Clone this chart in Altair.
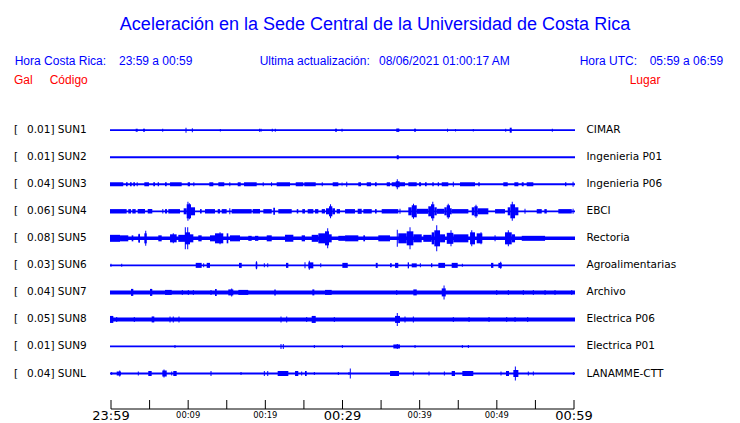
import altair as alt
import pandas as pd

# ---------------- texts ----------------
title_text = "Aceleración en la Sede Central de la Universidad de Costa Rica"
cr_label, cr_range = "Hora Costa Rica:", "23:59 a 00:59"
upd_label, upd_value = "Ultima actualización:", "08/06/2021 01:00:17 AM"
utc_label, utc_range = "Hora UTC:", "05:59 a 06:59"
col_gal, col_code, col_place = "Gal", "Código", "Lugar"

codes = ["SUN1", "SUN2", "SUN3", "SUN4", "SUN5", "SUN6", "SUN7", "SUN8", "SUN9", "SUNL"]
gals = ["0.01", "0.01", "0.04", "0.06", "0.08", "0.03", "0.04", "0.05", "0.01", "0.04"]
places = ["CIMAR", "Ingenieria P01", "Ingenieria P06", "EBCI", "Rectoria",
          "Agroalimentarias", "Archivo", "Electrica P06", "Electrica P01", "LANAMME-CTT"]

# background noise half-amplitude of each trace (relative units)
base_amp = [0.9, 0.9, 0.9, 0.9, 1.75, 0.9, 2, 2, 0.9, 0.9]
t_first, t_last = -0.13, 60.13          # minutes after 23:59

tick_minutes = list(range(0, 61, 5))
major_minutes = [0, 30, 60]
major_texts = ["23:59", "00:29", "00:59"]
minor_minutes = [10, 20, 40, 50]
minor_texts = ["00:09", "00:19", "00:39", "00:49"]

# ---------------- trace activity: (start min, end min, half amplitude) ----------------
blocks_SUN1 = [(3.20, 3.46, 1.5), (4.15, 4.41, 1.5), (29.03, 29.29, 1.5), (36.97, 37.36, 1.7),
               (39.27, 39.53, 1.5), (51.67, 51.93, 2.5)]
spikes_SUN1 = [(6.70, 1.5), (9.72, 2.5), (10.54, 2), (14.17, 1.2), (19.25, 1.5), (19.44, 1.5),
               (20.90, 1.5), (21.29, 1.5), (29.94, 1.5), (43.61, 1.5), (44.65, 1.2), (46.95, 1.2),
               (51.15, 1.5), (57.19, 1.5)]

blocks_SUN2 = [(37.03, 37.29, 2)]
spikes_SUN2 = []

blocks_SUN3 = [(-0.13, 1.59, 2), (1.94, 2.16, 2), (2.46, 2.68, 2), (2.89, 3.11, 2), (3.33, 3.46, 2),
               (4.32, 4.92, 2), (5.48, 5.70, 2), (6.05, 6.22, 2), (7.00, 7.22, 2), (7.65, 9.16, 2),
               (9.94, 10.24, 2), (10.67, 10.80, 2), (12.74, 13.26, 2), (13.91, 14.68, 2),
               (15.33, 15.46, 2), (16.42, 16.81, 2), (17.24, 18.88, 2), (19.66, 19.79, 2),
               (20.74, 20.87, 2), (21.47, 23.20, 2), (23.94, 24.92, 2), (25.05, 26.53, 2),
               (27.31, 27.44, 2), (28.73, 29.46, 2), (29.90, 29.98, 2), (32.05, 32.40, 2),
               (33.14, 33.70, 2), (34.21, 34.43, 2), (35.73, 36.16, 2), (36.38, 38.10, 2),
               (36.90, 37.40, 3), (38.53, 39.62, 2), (39.92, 40.18, 2), (40.69, 40.91, 2),
               (41.64, 41.82, 2), (42.34, 42.51, 2), (42.86, 43.71, 2), (45.23, 47.17, 2),
               (47.60, 47.78, 2), (50.84, 51.41, 2), (52.27, 52.79, 2), (53.23, 53.48, 2),
               (53.87, 54.73, 2), (58.84, 59.01, 2)]
spikes_SUN3 = [(30.55, 2.5), (37.10, 5), (44.36, 2.5), (59.88, 2.5)]

blocks_SUN4 = [(-0.13, 2.03, 2.2), (2.24, 2.59, 2.2), (2.76, 3.20, 2.2), (3.46, 4.41, 2.2),
               (4.76, 5.35, 2.2), (6.65, 6.78, 2.2), (7.00, 7.26, 2.2), (7.43, 8.94, 2.2),
               (9.42, 9.81, 3), (9.81, 10.37, 7), (10.37, 10.89, 4), (11.53, 11.75, 2.2),
               (12.18, 13.48, 2.2), (13.83, 14.13, 2.2), (14.35, 14.99, 2.2), (15.33, 15.46, 3),
               (15.64, 18.23, 2.2), (18.36, 19.31, 2.2), (19.74, 20.83, 2.2), (21.03, 21.25, 3.5),
               (21.68, 23.42, 2.2), (24.07, 24.27, 2.2), (24.79, 25.14, 2.2), (25.49, 26.22, 2.2),
               (26.44, 26.87, 2.2), (27.31, 27.73, 2.2), (27.86, 28.25, 3), (28.25, 28.68, 5),
               (28.68, 29.03, 3), (29.25, 29.68, 2.2), (30.33, 31.62, 2.2), (31.97, 32.49, 2.5),
               (32.70, 33.79, 2.2), (34.21, 34.43, 2.2), (35.08, 37.23, 2.2), (38.53, 38.97, 4),
               (38.97, 39.62, 6), (39.62, 41.12, 2.5), (41.12, 41.47, 5), (41.47, 41.90, 7),
               (41.90, 42.21, 4), (42.21, 43.20, 2.5), (43.20, 43.51, 4), (43.51, 43.93, 6),
               (43.93, 44.15, 3), (44.15, 46.31, 2.2), (46.75, 47.08, 4), (47.08, 47.52, 5),
               (47.52, 48.90, 3), (49.77, 51.06, 2.2), (51.41, 51.75, 4), (51.75, 52.36, 7),
               (52.36, 52.79, 4), (55.17, 55.82, 2.2), (56.16, 56.47, 2.2), (57.97, 59.71, 2.2)]
spikes_SUN4 = [(9.97, 9.5), (10.15, 8), (28.45, 7), (39.20, 7.5), (41.70, 9.5), (43.70, 7.5),
               (47.30, 6.5), (52.00, 9.5), (37.45, 2.5), (53.65, 2.5), (59.88, 2.5)]

blocks_SUN5 = [(-0.13, 1.17, 3.5), (1.17, 2.24, 3), (2.68, 2.89, 3), (3.54, 3.76, 4), (4.32, 4.63, 5),
               (6.13, 6.57, 3), (7.65, 8.51, 4), (8.72, 9.59, 3.5), (9.59, 10.24, 6), (10.02, 10.67, 4),
               (11.31, 11.75, 3), (12.83, 13.48, 3), (13.48, 14.55, 5), (14.99, 15.20, 5),
               (15.42, 16.72, 3), (17.79, 18.23, 2.5), (18.66, 19.09, 2.5), (20.18, 20.83, 3),
               (22.55, 23.63, 3.5), (24.71, 25.14, 3), (26.01, 26.87, 3.5), (26.87, 27.73, 5),
               (27.73, 28.25, 7), (28.25, 28.60, 4), (29.46, 30.33, 2.5), (30.33, 32.05, 3),
               (32.70, 32.92, 3), (34.64, 36.16, 3), (37.23, 38.32, 5), (38.32, 39.18, 7),
               (39.18, 40.27, 4), (40.47, 41.56, 3.5), (41.56, 41.90, 6), (41.90, 42.64, 8),
               (42.64, 43.29, 4), (43.51, 44.36, 5.5), (44.36, 46.31, 4), (46.53, 47.17, 6),
               (47.39, 48.12, 5), (51.06, 51.93, 6), (51.93, 52.36, 4), (53.23, 56.25, 2.5)]
spikes_SUN5 = [(3.65, 4.5), (4.50, 7.5), (8.07, 5), (9.63, 11), (9.94, 11), (14.13, 6), (28.08, 10),
               (37.10, 8.5), (38.75, 11), (42.21, 13), (44.06, 8), (46.75, 8), (47.95, 6),
               (49.77, 3), (51.49, 8)]

blocks_SUN6 = [(10.98, 11.75, 2.5), (12.40, 12.83, 2.5), (16.59, 16.94, 2.5), (18.75, 18.96, 3),
               (22.68, 22.98, 2.5), (25.57, 26.22, 3), (29.98, 30.68, 2.5), (34.31, 34.56, 2.5),
               (36.16, 36.38, 2), (36.81, 37.23, 2.5), (38.45, 38.62, 3), (38.97, 39.62, 2),
               (41.47, 41.64, 2), (42.42, 43.29, 2.5), (44.15, 44.93, 2.5), (49.25, 49.55, 2.5),
               (50.20, 50.63, 2.5)]
spikes_SUN6 = [(0.0, 1.5), (1.39, 1.5), (12.01, 2), (18.85, 4), (19.87, 2), (20.31, 2), (25.14, 3),
               (25.70, 4.5), (27.18, 2), (40.09, 2), (45.53, 1.5), (50.50, 3.5)]

blocks_SUN7 = [(2.59, 2.89, 3.5), (5.05, 5.35, 3.5), (7.00, 7.87, 2.5), (13.48, 13.70, 3.5),
               (15.20, 15.85, 3), (16.50, 17.79, 2.5), (21.16, 21.35, 3), (26.09, 26.35, 3),
               (27.73, 28.60, 2.5), (39.18, 39.62, 3), (42.86, 43.38, 4)]
spikes_SUN7 = [(9.24, 2.5), (10.02, 2.5), (10.67, 2.5), (12.96, 2.5), (15.64, 4), (37.03, 2.5),
               (43.16, 7), (49.99, 2.5), (51.49, 2.5), (53.43, 2.5), (54.73, 2.5), (56.25, 2.5),
               (57.54, 2.5), (59.71, 2.5)]

blocks_SUN8 = [(-0.13, 0.30, 3.5), (5.27, 5.61, 3), (26.01, 26.53, 3.5), (36.81, 37.45, 3.5)]
spikes_SUN8 = [(0.74, 2.5), (3.02, 2.5), (7.65, 3), (8.07, 3), (8.81, 3), (22.03, 3), (22.77, 3),
               (25.36, 2.5), (28.94, 2.5), (37.10, 6.5), (38.10, 3), (39.18, 3), (44.36, 2.5),
               (46.40, 2.5), (48.99, 2.5), (51.28, 2.5), (52.36, 2.5), (54.00, 2.5)]

blocks_SUN9 = [(36.59, 37.45, 2)]
spikes_SUN9 = [(8.29, 1.5), (22.03, 2.5), (22.33, 2.5), (26.35, 1.5), (29.98, 1.5), (37.10, 2.5),
               (39.40, 1.5), (45.53, 1.5), (46.31, 1.5)]

blocks_SUNL = [(0.74, 1.30, 2), (4.83, 5.27, 2.5), (6.65, 7.22, 3), (8.07, 8.51, 2.5),
               (21.60, 22.98, 2.5), (23.85, 24.27, 2.5), (25.14, 25.36, 2.5), (36.16, 37.32, 2.5),
               (44.15, 44.58, 2.5), (45.53, 46.95, 2.5), (51.19, 51.58, 2.5), (52.14, 52.79, 3.5)]
spikes_SUNL = [(0.09, 1.5), (1.13, 3), (3.54, 2), (6.87, 4), (7.87, 2), (12.96, 2.5), (16.85, 1.5),
               (19.87, 2.5), (20.31, 2.5), (24.71, 2), (26.35, 1.5), (29.46, 1.5), (30.84, 1.5),
               (31.01, 5), (39.18, 2), (41.21, 2), (43.20, 2), (50.54, 2), (52.40, 7), (54.08, 2),
               (54.73, 2), (59.92, 1.5)]

blocks = {"SUN1": blocks_SUN1, "SUN2": blocks_SUN2, "SUN3": blocks_SUN3, "SUN4": blocks_SUN4,
          "SUN5": blocks_SUN5, "SUN6": blocks_SUN6, "SUN7": blocks_SUN7, "SUN8": blocks_SUN8,
          "SUN9": blocks_SUN9, "SUNL": blocks_SUNL}
spikes = {"SUN1": spikes_SUN1, "SUN2": spikes_SUN2, "SUN3": spikes_SUN3, "SUN4": spikes_SUN4,
          "SUN5": spikes_SUN5, "SUN6": spikes_SUN6, "SUN7": spikes_SUN7, "SUN8": spikes_SUN8,
          "SUN9": spikes_SUN9, "SUNL": spikes_SUNL}

# ---------------- build tables ----------------
ROW = 27          # vertical spacing between traces (relative amplitude units)
SAMPLE = 0.13     # width of one spike (minutes)

rows = []
for i, c in enumerate(codes):
    yc = i * ROW
    rows.append({"code": c, "t0": t_first, "t1": t_last, "lo": yc - base_amp[i], "hi": yc + base_amp[i]})
    for t0, t1, a in blocks[c]:
        rows.append({"code": c, "t0": t0, "t1": t1, "lo": yc - a, "hi": yc + a})
    for t, a in spikes[c]:
        rows.append({"code": c, "t0": t - SAMPLE / 2, "t1": t + SAMPLE / 2, "lo": yc - a, "hi": yc + a})
traces = pd.DataFrame(rows)

stations = pd.DataFrame({
    "code": codes,
    "left": [g + "] " + c for g, c in zip(gals, codes)],
    "place": places,
    "yc": [i * ROW for i in range(len(codes))],
})

BLUE = "#0000ff"
RED = "#ff0000"

xs = alt.Scale(domain=[0, 60], range=[103, 566], nice=False, zero=False)
ys = alt.Scale(domain=[0, 9 * ROW], range=[122.2, 365.5], nice=False, zero=False)

trace_layer = alt.Chart(traces).mark_rect(color=BLUE).encode(
    x=alt.X("t0:Q", scale=xs, axis=None), x2="t1",
    y=alt.Y("lo:Q", scale=ys, axis=None), y2="hi",
)

lab_font = "DejaVu Sans"
bracket_layer = alt.Chart(stations).mark_text(
    text="[", align="left", baseline="middle", font=lab_font, fontSize=10.5, color="black"
).encode(x=alt.value(6), y=alt.Y("yc:Q", scale=ys, axis=None))
left_layer = alt.Chart(stations).mark_text(
    align="left", baseline="middle", font=lab_font, fontSize=10.5, color="black"
).encode(x=alt.value(19), y=alt.Y("yc:Q", scale=ys, axis=None), text="left:N")
right_layer = alt.Chart(stations).mark_text(
    align="left", baseline="middle", font=lab_font, fontSize=10.5, color="black"
).encode(x=alt.value(578.5), y=alt.Y("yc:Q", scale=ys, axis=None), text="place:N")

# ---------------- time axis ----------------
tick_df = pd.DataFrame({"m": tick_minutes})
tick_layer = alt.Chart(tick_df).mark_rule(color="black", strokeWidth=1).encode(
    x=alt.X("m:Q", scale=xs, axis=None), y=alt.value(392), y2=alt.value(401)
)
axis_line = alt.Chart(pd.DataFrame({"a": [tick_minutes[0]], "b": [tick_minutes[-1]]})).mark_rule(
    color="black", strokeWidth=1
).encode(x=alt.X("a:Q", scale=xs, axis=None), x2="b", y=alt.value(401))
major_layer = alt.Chart(pd.DataFrame({"m": major_minutes, "t": major_texts})).mark_text(
    align="center", baseline="alphabetic", font=lab_font, fontSize=13, color="black"
).encode(x=alt.X("m:Q", scale=xs, axis=None), y=alt.value(412.3), text="t:N")
minor_layer = alt.Chart(pd.DataFrame({"m": minor_minutes, "t": minor_texts})).mark_text(
    align="center", baseline="alphabetic", font=lab_font, fontSize=8.4, color="black"
).encode(x=alt.X("m:Q", scale=xs, axis=None), y=alt.value(409.5), text="t:N")


# ---------------- header ----------------
def hdr(text, x, y, color, size, align="left"):
    return alt.Chart(pd.DataFrame({"t": [text]})).mark_text(
        align=align, baseline="alphabetic", font="Liberation Sans", fontSize=size, color=color
    ).encode(x=alt.value(x), y=alt.value(y), text="t:N")


headers = [
    hdr(title_text, 367, 21.5, BLUE, 18, "center"),
    hdr(cr_label, 6.7, 57.3, BLUE, 12),
    hdr(cr_range, 111, 57.3, BLUE, 12),
    hdr(upd_label, 251.7, 57.3, BLUE, 12),
    hdr(upd_value, 371, 57.3, BLUE, 12),
    hdr(utc_label, 571.7, 57.3, BLUE, 12),
    hdr(utc_range, 641.7, 57.3, BLUE, 12),
    hdr(col_gal, 6, 76.3, RED, 12),
    hdr(col_code, 41.7, 76.3, RED, 12),
    hdr(col_place, 621.7, 76.3, RED, 12),
]

chart = alt.layer(
    trace_layer, bracket_layer, left_layer, right_layer,
    axis_line, tick_layer, major_layer, minor_layer, *headers
).properties(
    width=724, height=415, padding=0,
    autosize=alt.AutoSizeParams(type="none"),
).configure_view(stroke=None)

chart.save("out.html", embed_options={"renderer": "svg", "actions": False})
